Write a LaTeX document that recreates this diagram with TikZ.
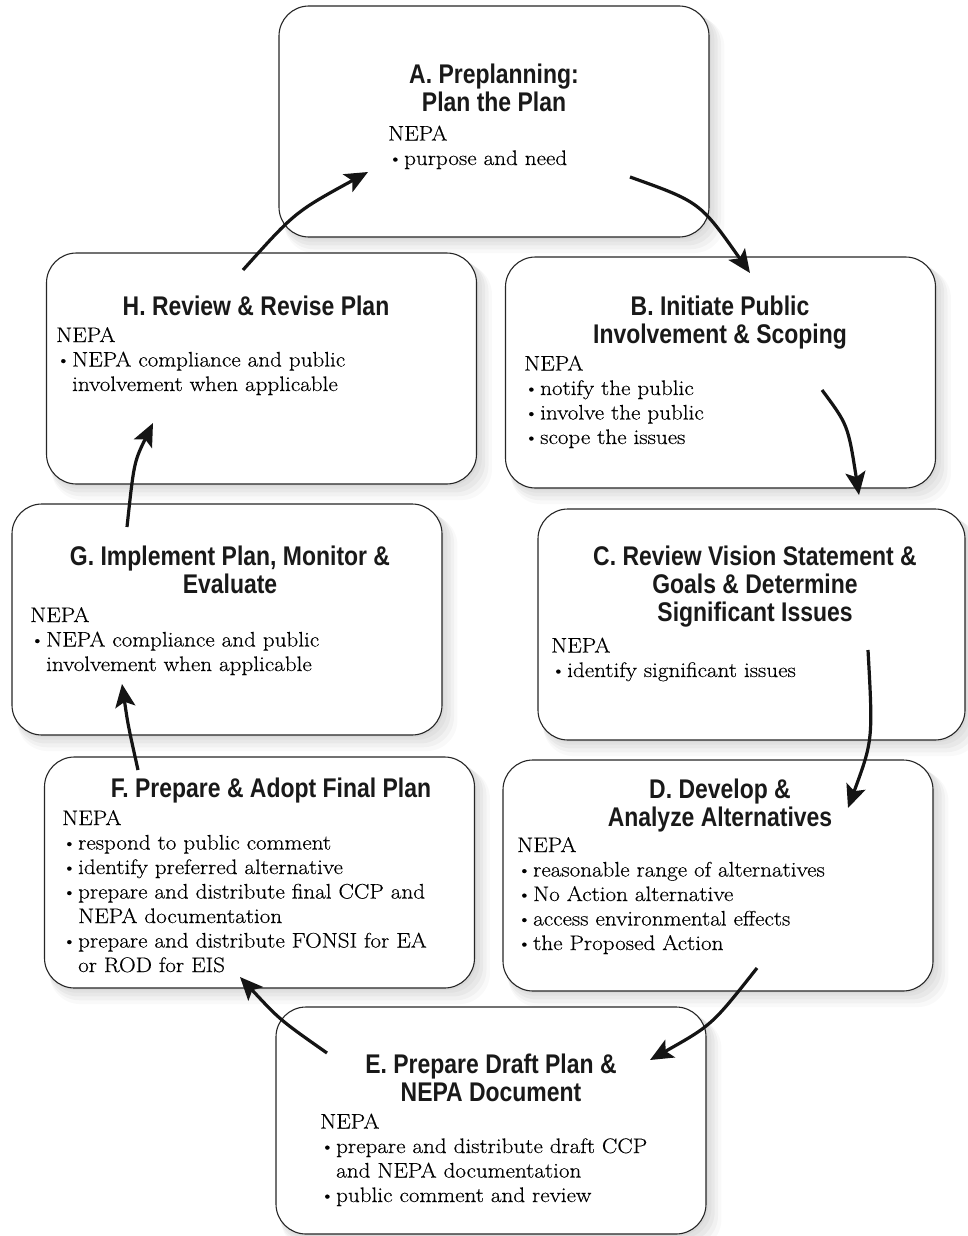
\documentclass[tikz,border=0pt]{standalone}
\usepackage{fontspec}
\setmainfont{Latin Modern Roman}[FakeStretch=1.1, FakeBold=0.3]
\newfontfamily\titlefont{Liberation Sans}[FakeStretch=0.85]
\usetikzlibrary{arrows.meta,shadows}
\newcommand{\bulit}{\makebox[16pt][l]{\raisebox{0.6pt}{\fontsize{18}{18}\selectfont\textbullet}}}
\newcommand{\contin}{\hspace*{16pt}}
\begin{document}
\begin{tikzpicture}[x=1pt,y=-1pt]
\tikzset{
 softshadow/.style={
   general shadow={fill=black, opacity=0.035, shadow xshift=2pt, shadow yshift=-2pt, shadow scale=1.0},
   general shadow={fill=black, opacity=0.035, shadow xshift=4pt, shadow yshift=-4pt, shadow scale=1.006},
   general shadow={fill=black, opacity=0.035, shadow xshift=6pt, shadow yshift=-7pt, shadow scale=1.012},
   general shadow={fill=black, opacity=0.03, shadow xshift=8pt, shadow yshift=-10pt, shadow scale=1.018},
   general shadow={fill=black, opacity=0.025, shadow xshift=10pt, shadow yshift=-13pt, shadow scale=1.024}},
 box/.style={draw=black!85, line width=1.1pt, rounded corners=30pt, fill=white,
   minimum width=430pt, minimum height=231pt, inner sep=0pt, softshadow},
 ttl/.style={font=\titlefont\bfseries\fontsize{27}{28}\selectfont, align=center, anchor=base, inner sep=0pt, text=black!90},
 body/.style={font=\fontsize{21}{24.5}\selectfont, align=left, anchor=base west, inner sep=0pt},
 flow/.style={line width=3.2pt, draw=black!92, -{Stealth[length=23pt,width=20pt,inset=5pt]}},
}
\useasboundingbox (0,0) rectangle (967,1236);

% boxes
\node[box] (A) at (494,121.5) {};
\node[box] (B) at (720.5,372.5) {};
\node[box] (H) at (261.5,368.5) {};
\node[box, minimum width=427pt] (C) at (751.5,624.5) {};
\node[box] (G) at (227,619.5) {};
\node[box] (D) at (718,875.5) {};
\node[box] (F) at (259.5,872.5) {};
\node[box, minimum height=227pt] (E) at (491,1120.5) {};

% titles (anchored at the baseline of their last line)
\node[ttl] (At) at (494,112) {A. Preplanning:\\Plan the Plan};
\node[ttl] (Bt) at (720,343) {B. Initiate Public\\Involvement \& Scoping};
\node[ttl] (Ht) at (256,315) {H. Review \& Revise Plan};
\node[ttl] (Ct) at (755,621) {C. Review Vision Statement \&\\Goals \& Determine\\Significant Issues};
\node[ttl] (Gt) at (230,593) {G. Implement Plan, Monitor \&\\Evaluate};
\node[ttl] (Dt) at (720,826) {D. Develop \&\\Analyze Alternatives};
\node[ttl] (Ft) at (271,797) {F. Prepare \& Adopt Final Plan};
\node[ttl] (Et) at (491,1101) {E. Prepare Draft Plan \&\\NEPA Document};

% bodies (anchored at the baseline of their last line)
\node[body] (Ab) at (388,165) {NEPA\\\bulit purpose and need};
\node[body] (Bb) at (524,444) {NEPA\\\bulit notify the public\\\bulit involve the public\\\bulit scope the issues};
\node[body] (Hb) at (56,391) {NEPA\\\bulit NEPA compliance and public\\\contin involvement when applicable};
\node[body] (Cb) at (551,677) {NEPA\\\bulit identify significant issues};
\node[body] (Gb) at (30,671) {NEPA\\\bulit NEPA compliance and public\\\contin involvement when applicable};
\node[body] (Db) at (517,950) {NEPA\\\bulit reasonable range of alternatives\\\bulit No Action alternative\\\bulit access environmental effects\\\bulit the Proposed Action};
\node[body] (Fb) at (62,972) {NEPA\\\bulit respond to public comment\\\bulit identify preferred alternative\\\bulit prepare and distribute final CCP and\\\contin NEPA documentation\\\bulit prepare and distribute FONSI for EA\\\contin or ROD for EIS};
\node[body] (Eb) at (320,1202) {NEPA\\\bulit prepare and distribute draft CCP\\\contin and NEPA documentation\\\bulit public comment and review};

% connector end points
\coordinate (h1) at (243,270); \coordinate (a1) at (368,172);
\coordinate (a2) at (630,177); \coordinate (b1) at (750,273);
\coordinate (b2) at (822,390); \coordinate (c1) at (859,495);
\coordinate (c2) at (868,650); \coordinate (d1) at (848,808);
\coordinate (d2) at (757,968); \coordinate (e1) at (650,1060);
\coordinate (e2) at (327,1053); \coordinate (f1) at (240,977);
\coordinate (f2) at (138,770); \coordinate (g1) at (122,684);
\coordinate (g2) at (127,527); \coordinate (h2) at (153,423);

\draw[flow] (h1) .. controls (295,212) .. (a1);
\draw[flow] (a2) .. controls (700,202) .. (b1);
\draw[flow] (b2) .. controls (848,425) .. (c1);
\draw[flow] (c2) .. controls (873,740) .. (d1);
\draw[flow] (d2) .. controls (712,1025) .. (e1);
\draw[flow] (e2) .. controls (280,1020) .. (f1);
\draw[flow] (f2) .. controls (128,725) .. (g1);
\draw[flow] (g2) .. controls (134,462) .. (h2);
\end{tikzpicture}
\end{document}
